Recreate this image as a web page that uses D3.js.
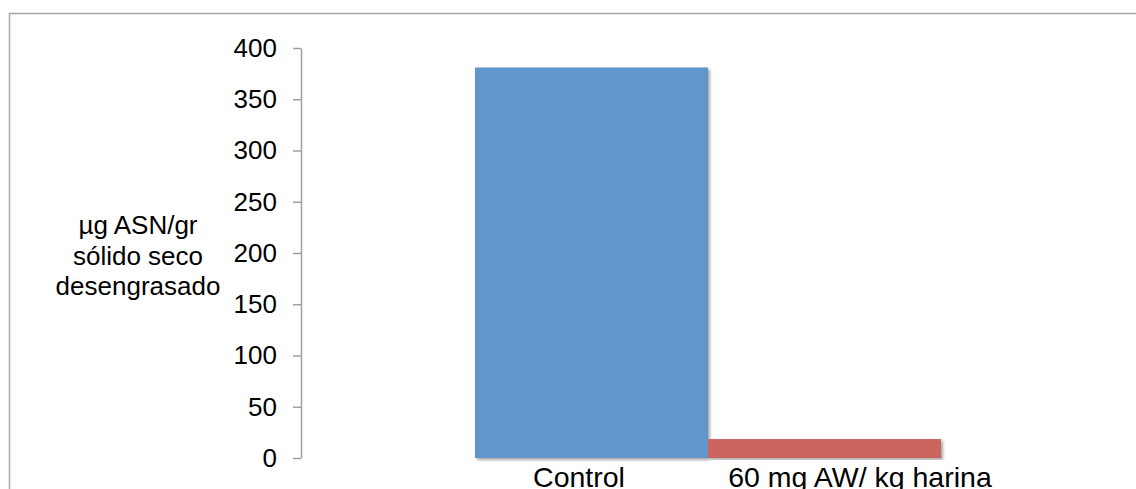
<!DOCTYPE html>
<html>
<head>
<meta charset="utf-8">
<script src="https://cdn.jsdelivr.net/npm/d3@7"></script>
<style>
  body { margin: 0; background: #fff; }
  svg { display: block; font-family: "Liberation Sans", Arial, sans-serif; }
</style>
</head>
<body>
<svg id="chart"></svg>
<script>
// data
const categories = ["Control", "60 mg AW/ kg harina"];
const values = [381, 18.5];
const barColors = ["#6096c9", "#cb6560"];
const yTicks = [0, 50, 100, 150, 200, 250, 300, 350, 400];
const yTitle = ["µg ASN/gr", "sólido seco", "desengrasado"];

const width = 1136, height = 489;

const svg = d3.select("#chart")
    .attr("width", width)
    .attr("height", height);

// drop shadow like the office chart
const defs = svg.append("defs");
defs.append("filter")
    .attr("id", "shadow")
    .attr("x", "-5%").attr("y", "-5%")
    .attr("width", "110%").attr("height", "115%")
  .append("feDropShadow")
    .attr("dx", 2).attr("dy", 2)
    .attr("stdDeviation", 1.5)
    .attr("flood-color", "#000")
    .attr("flood-opacity", 0.35);

// outer frame (cut at right and bottom)
svg.append("rect")
    .attr("x", 9.5).attr("y", 13.5)
    .attr("width", 1200).attr("height", 600)
    .attr("fill", "none")
    .attr("stroke", "#a6a6a6")
    .attr("stroke-width", 1.5);

const y = d3.scaleLinear().domain([0, 400]).range([458, 48]);
const x = d3.scaleBand().domain(categories).range([475, 941]).padding(0);
const xLabel = d3.scaleBand().domain(categories).range([438.5, 1000.5]).padding(0);

// bars
svg.append("g")
    .selectAll("rect")
    .data(categories)
    .enter().append("rect")
    .attr("x", d => x(d))
    .attr("y", (d, i) => y(values[i]))
    .attr("width", x.bandwidth())
    .attr("height", (d, i) => y(0) - y(values[i]))
    .attr("fill", (d, i) => barColors[i])
    .attr("filter", "url(#shadow)");

// y axis
const yAxis = svg.append("g")
    .attr("transform", "translate(301,0)")
    .call(d3.axisLeft(y).tickValues(yTicks).tickSize(8).tickSizeOuter(0).tickPadding(16));
yAxis.select(".domain").attr("stroke", "#a0a0a0").attr("stroke-width", 1.5);
yAxis.selectAll(".tick line").attr("stroke", "#a0a0a0").attr("stroke-width", 1.5);
yAxis.selectAll(".tick text")
    .attr("fill", "#000")
    .style("font-size", "26px")
    .style("font-family", "'Liberation Sans', Arial, sans-serif");

// category labels (cut by the bottom edge, as in the original)
svg.append("g")
    .selectAll("text")
    .data(categories)
    .enter().append("text")
    .attr("x", d => xLabel(d) + xLabel.bandwidth() / 2)
    .attr("y", 487)
    .attr("text-anchor", "middle")
    .style("font-size", "28.5px")
    .text(d => d);

// y title
svg.append("text")
    .attr("y", 234)
    .attr("text-anchor", "middle")
    .style("font-size", "26px")
    .selectAll("tspan")
    .data(yTitle)
    .enter().append("tspan")
    .attr("x", 138)
    .attr("dy", (d, i) => i === 0 ? 0 : 30.5)
    .text(d => d);
</script>
</body>
</html>
